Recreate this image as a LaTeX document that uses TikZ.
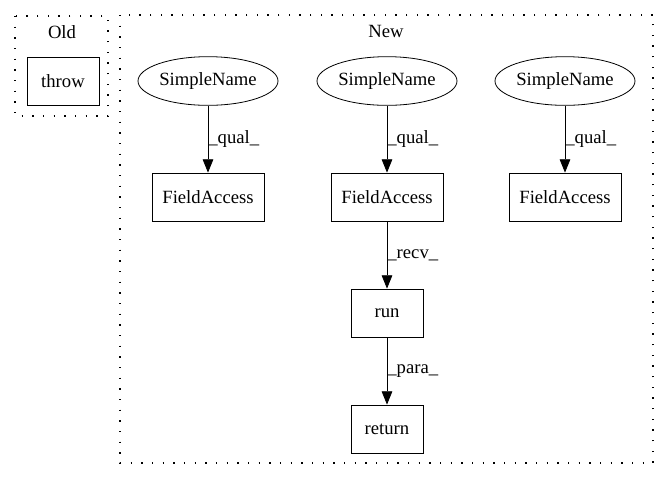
\documentclass[tikz,border=0pt]{standalone}
\usepackage{fontspec}
\setmainfont{Liberation Serif}
\usetikzlibrary{arrows.meta}
\usetikzlibrary{shapes.geometric}

\tikzset{
  box/.style = {draw, rectangle, minimum height=36pt, inner sep=0pt},
  leaf/.style = {draw, ellipse, minimum width=105pt, minimum height=36.5pt, inner sep=0pt},
  cluster/.style = {line width=0.9pt, dash pattern=on 0.9pt off 7.1pt},
  lbl/.style = {right, inner sep=0pt},
}

\begin{document}
\begin{tikzpicture}[>={Triangle[length=10pt, width=8pt]}, x=0.75pt, y=-0.75pt,
    font=\fontsize{14pt}{16pt}\selectfont, line width=0.6pt]

    \useasboundingbox (0,0) rectangle (669,480);

    % clusters
    \draw[cluster] (15,16) rectangle (108,116);
    \node (oldlabel) at (62,32) {Old};
    \draw[cluster] (120,15) rectangle (653,463);
    \node (newlabel) at (386,31) {New};

    \node[box, minimum width=54pt] (throw) at (63,81) {throw};

    \node[leaf] (name1) at (208,81) {SimpleName};
    \node[leaf] (name2) at (387,81) {SimpleName};
    \node[leaf] (name3) at (565,81) {SimpleName};

    \node[box, minimum width=84pt] (field1) at (208,197) {FieldAccess};
    \node[box, minimum width=84pt] (field2) at (387,197) {FieldAccess};
    \node[box, minimum width=84pt] (field3) at (565,197) {FieldAccess};

    \node[box, minimum width=54pt] (run) at (387,313) {run};
    \node[box, minimum width=54pt] (return) at (387,429) {return};

    \draw[->] (name1) -- node[lbl]{\_qual\_} (field1);
    \draw[->] (name2) -- node[lbl]{\_qual\_} (field2);
    \draw[->] (name3) -- node[lbl]{\_qual\_} (field3);
    \draw[->] (field2) -- node[lbl]{\_recv\_} (run);
    \draw[->] (run) -- node[lbl]{\_para\_} (return);

\end{tikzpicture}
\end{document}
